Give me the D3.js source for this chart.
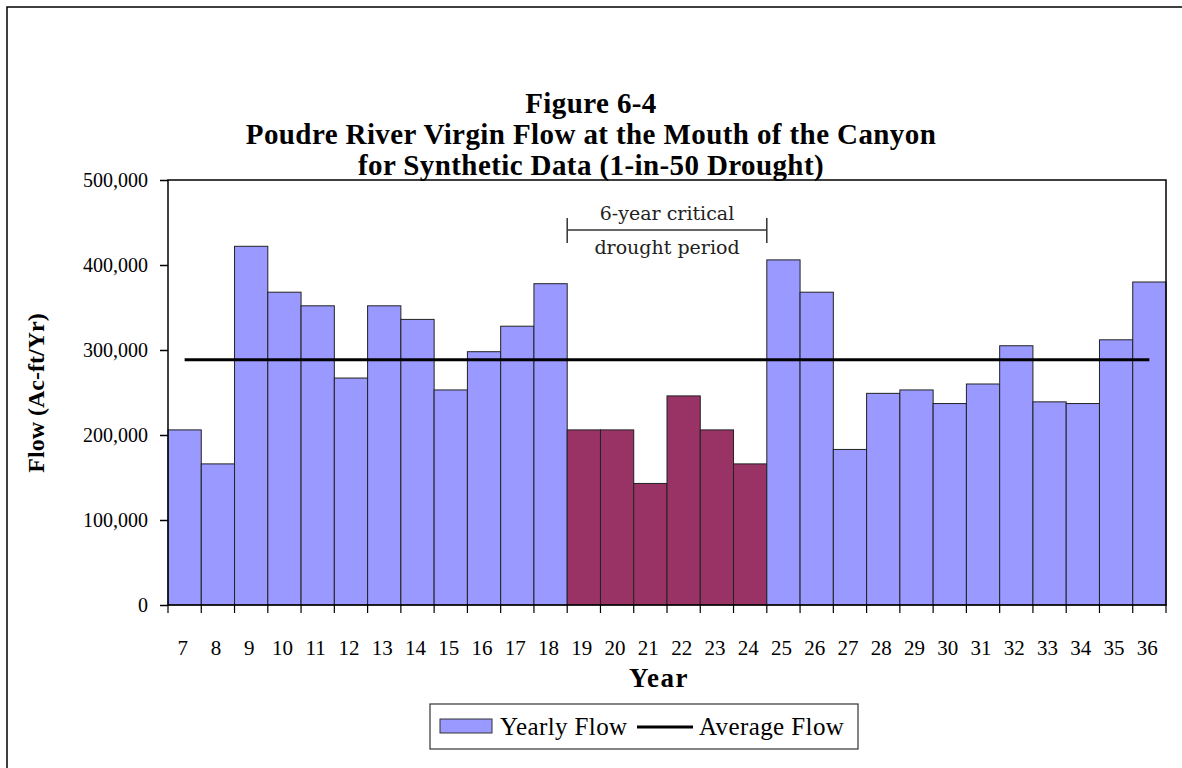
<!DOCTYPE html>
<html>
<head>
<meta charset="utf-8">
<script src="https://cdn.jsdelivr.net/npm/d3@7"></script>
<style>
  body { margin: 0; background: #fff; }
  svg { display: block; font-family: "Liberation Serif", "Times New Roman", serif; }
</style>
</head>
<body>
<script>
// data
const years = d3.range(7, 37);
const flows = [206000, 166000, 422000, 368000, 352000, 267000, 352000, 336000, 253000, 298000,
  328000, 378000, 206000, 206000, 143000, 246000, 206000, 166000, 406000, 368000,
  183000, 249000, 253000, 237000, 260000, 305000, 239000, 237000, 312000, 380000];
const droughtYears = [19, 20, 21, 22, 23, 24];
const averageFlow = 288600;
const yTicks = [0, 100000, 200000, 300000, 400000, 500000];
const titleLines = ["Figure 6-4", "Poudre River Virgin Flow at the Mouth of the Canyon", "for Synthetic Data (1-in-50 Drought)"];

const W = 1182, H = 768;
const plot = { left: 168, right: 1166, top: 180, bottom: 605 };

const svg = d3.select("body").append("svg").attr("width", W).attr("height", H);

// outer frame
svg.append("rect").attr("x", 7).attr("y", 7).attr("width", 1200).attr("height", 800)
  .attr("fill", "none").attr("stroke", "#000").attr("stroke-width", 1.5);

const x = d3.scaleBand().domain(years).range([plot.left, plot.right]).padding(0);
const y = d3.scaleLinear().domain([0, 500000]).range([plot.bottom, plot.top]);

// title
svg.append("g").selectAll("text").data(titleLines).join("text")
  .attr("x", 591).attr("y", (d, i) => 113 + i * 31)
  .attr("text-anchor", "middle").attr("font-weight", "bold").attr("font-size", 29)
  .attr("letter-spacing", 0.4)
  .text(d => d);

// bars
svg.append("g").selectAll("rect").data(years).join("rect")
  .attr("x", d => x(d)).attr("width", x.bandwidth())
  .attr("y", (d, i) => y(flows[i])).attr("height", (d, i) => y(0) - y(flows[i]))
  .attr("fill", d => droughtYears.includes(d) ? "#993366" : "#9999ff")
  .attr("stroke", "#222").attr("stroke-width", 1);

// plot frame
svg.append("rect").attr("x", plot.left).attr("y", plot.top)
  .attr("width", plot.right - plot.left).attr("height", plot.bottom - plot.top)
  .attr("fill", "none").attr("stroke", "#000").attr("stroke-width", 1.5);

// average line
svg.append("line")
  .attr("x1", x(years[0]) + x.bandwidth() / 2).attr("x2", x(years[years.length - 1]) + x.bandwidth() / 2)
  .attr("y1", y(averageFlow)).attr("y2", y(averageFlow))
  .attr("stroke", "#000").attr("stroke-width", 3);

// y axis
const yAxis = d3.axisLeft(y).tickValues(yTicks).tickSize(8).tickPadding(12).tickFormat(d3.format(","));
svg.append("g").attr("transform", `translate(${plot.left},0)`).call(yAxis)
  .call(g => g.select(".domain").remove())
  .call(g => g.selectAll("line").attr("stroke", "#000").attr("stroke-width", 1.5))
  .call(g => g.selectAll("text").attr("font-size", 20).attr("fill", "#000").attr("font-family", "Liberation Serif"));

// x axis: ticks at band boundaries, labels at band centres
const edges = years.map(d => x(d)).concat([plot.right]);
svg.append("g").selectAll("line").data(edges).join("line")
  .attr("x1", d => d).attr("x2", d => d).attr("y1", plot.bottom).attr("y2", plot.bottom + 8)
  .attr("stroke", "#000").attr("stroke-width", 1.2);
svg.append("g").selectAll("text").data(years).join("text")
  .attr("x", d => x(d) + x.bandwidth() / 2 - 2).attr("y", 655)
  .attr("text-anchor", "middle").attr("font-size", 21).text(d => d);

// axis titles
svg.append("text").attr("x", 659).attr("y", 687).attr("text-anchor", "middle")
  .attr("font-weight", "bold").attr("font-size", 27).attr("letter-spacing", 1.5).text("Year");
svg.append("text").attr("transform", "translate(44,393) rotate(-90)").attr("text-anchor", "middle")
  .attr("font-weight", "bold").attr("font-size", 24).text("Flow (Ac-ft/Yr)");

// drought annotation
const bx0 = x(droughtYears[0]), bx1 = x(droughtYears[droughtYears.length - 1]) + x.bandwidth();
const ann = svg.append("g").attr("stroke", "#333").attr("stroke-width", 1.5);
ann.append("line").attr("x1", bx0).attr("x2", bx1).attr("y1", 230).attr("y2", 230);
ann.append("line").attr("x1", bx0).attr("x2", bx0).attr("y1", 218).attr("y2", 243);
ann.append("line").attr("x1", bx1).attr("x2", bx1).attr("y1", 218).attr("y2", 243);
svg.append("text").attr("x", (bx0 + bx1) / 2).attr("y", 220).attr("text-anchor", "middle")
  .attr("font-size", 19).attr("fill", "#222").attr("font-family", "DejaVu Serif").text("6-year critical");
svg.append("text").attr("x", (bx0 + bx1) / 2).attr("y", 254).attr("text-anchor", "middle")
  .attr("font-size", 19).attr("fill", "#222").attr("font-family", "DejaVu Serif").text("drought period");

// legend
const lg = svg.append("g");
lg.append("rect").attr("x", 430).attr("y", 704).attr("width", 428).attr("height", 45)
  .attr("fill", "#fff").attr("stroke", "#333").attr("stroke-width", 1.2);
lg.append("rect").attr("x", 440).attr("y", 719).attr("width", 52).attr("height", 14)
  .attr("fill", "#9999ff").attr("stroke", "#333").attr("stroke-width", 1);
lg.append("text").attr("x", 500).attr("y", 735).attr("font-size", 25).attr("letter-spacing", 0.4).text("Yearly Flow");
lg.append("line").attr("x1", 637).attr("x2", 693).attr("y1", 727).attr("y2", 727)
  .attr("stroke", "#000").attr("stroke-width", 3);
lg.append("text").attr("x", 699).attr("y", 735).attr("font-size", 25).attr("letter-spacing", 0.4).text("Average Flow");
</script>
</body>
</html>
